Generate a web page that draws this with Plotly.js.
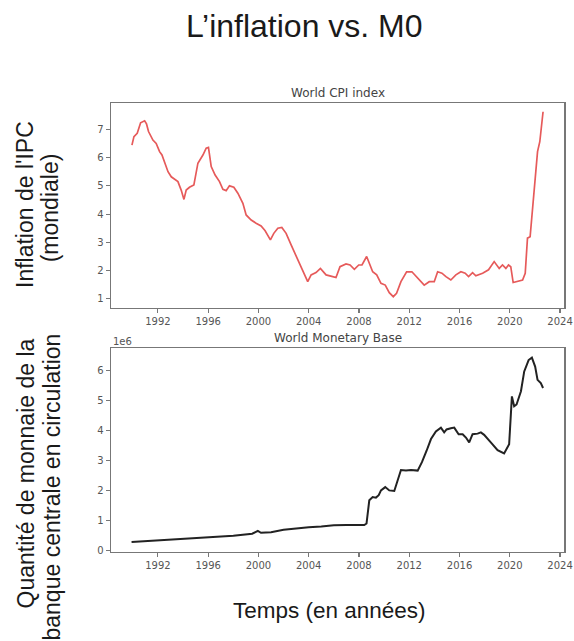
<!DOCTYPE html>
<html>
<head>
<meta charset="utf-8">
<script src="https://cdn.plot.ly/plotly-3.0.1.min.js"></script>
<style>html,body{margin:0;padding:0;background:#fff;}#chart{width:574px;height:641px;}</style>
</head>
<body>
<div id="chart"></div>
<script>
// ---- Data ----
const cpiYears = [1989.93,1990.09,1990.35,1990.62,1990.94,1991.09,1991.25,1991.6,1991.86,1992.13,1992.32,1992.8,1993.06,1993.4,1993.59,1993.85,1994.07,1994.25,1994.51,1994.86,1995.18,1995.58,1995.84,1996.02,1996.24,1996.55,1996.9,1997.17,1997.43,1997.69,1998.04,1998.36,1998.76,1999.02,1999.42,1999.81,2000.21,2000.53,2000.95,2001.22,2001.54,2001.86,2002.2,2002.6,2003.13,2003.53,2003.92,2004.19,2004.58,2004.93,2005.38,2005.91,2006.17,2006.49,2006.97,2007.29,2007.63,2007.98,2008.24,2008.61,2008.82,2009.09,2009.41,2009.75,2010.09,2010.41,2010.73,2010.99,2011.34,2011.79,2012.21,2012.67,2013.19,2013.59,2013.99,2014.26,2014.6,2014.92,2015.31,2015.71,2016.11,2016.45,2016.72,2017.04,2017.3,2017.84,2018.31,2018.76,2019.16,2019.42,2019.69,2019.9,2020.08,2020.27,2020.62,2021.02,2021.23,2021.41,2021.62,2021.81,2022.02,2022.21,2022.39,2022.65];
const cpiValues = [6.44,6.74,6.86,7.23,7.30,7.19,6.92,6.62,6.50,6.21,6.09,5.50,5.32,5.21,5.15,4.85,4.52,4.85,4.95,5.03,5.80,6.09,6.33,6.36,5.68,5.38,5.15,4.88,4.83,5.00,4.95,4.74,4.38,3.97,3.79,3.68,3.58,3.41,3.09,3.32,3.50,3.53,3.32,2.91,2.38,1.96,1.61,1.85,1.93,2.08,1.85,1.79,1.76,2.14,2.24,2.20,2.05,2.20,2.20,2.50,2.26,1.96,1.85,1.55,1.49,1.22,1.08,1.20,1.61,1.96,1.96,1.73,1.49,1.61,1.61,1.96,1.91,1.79,1.67,1.85,1.96,1.91,1.79,1.93,1.82,1.91,2.03,2.32,2.08,2.20,2.08,2.20,2.14,1.58,1.61,1.67,1.91,3.15,3.20,4.15,5.32,6.21,6.56,7.62];

const mbYears = [1989.9,1992,1994,1996,1998,1999.5,1999.95,2000.2,2001,2002,2003,2004,2005,2006,2007,2008.42,2008.6,2008.82,2009.09,2009.35,2009.57,2009.75,2010.09,2010.41,2010.81,2011.08,2011.34,2011.74,2012.14,2012.67,2013.01,2013.38,2013.73,2014.12,2014.52,2014.78,2014.97,2015.31,2015.58,2015.93,2016.25,2016.51,2016.77,2017.04,2017.44,2017.7,2017.96,2018.49,2019.03,2019.55,2019.95,2020.17,2020.35,2020.54,2020.89,2021.15,2021.5,2021.76,2022.02,2022.21,2022.47,2022.65];
const mbValues = [290000,340000,400000,450000,500000,570000,660000,600000,620000,700000,750000,780000,810000,850000,860000,860000,910000,1680000,1790000,1770000,1850000,2010000,2120000,2010000,1990000,2340000,2690000,2670000,2690000,2670000,2950000,3330000,3720000,3970000,4100000,3940000,4040000,4080000,4100000,3880000,3880000,3770000,3610000,3880000,3900000,3940000,3860000,3610000,3350000,3240000,3550000,5140000,4810000,4870000,5310000,5970000,6350000,6430000,6130000,5690000,5580000,5420000];

const yearTicks = [1992,1996,2000,2004,2008,2012,2016,2020,2024];
const yearTickLabels = ["1992","1996","2000","2004","2008","2012","2016","2020","2024"];
const cpiTicks = [1,2,3,4,5,6,7];
const mbTicks = [0,1000000,2000000,3000000,4000000,5000000,6000000];
const mbTickLabels = ["0","1","2","3","4","5","6"];

const texts = {
  title: "L’inflation vs. M0",
  top1: "Inflation de l'IPC",
  top2: "(mondiale)",
  bot1: "Quantité de monnaie de la",
  bot2: "banque centrale en circulation",
  xt: "Temps (en années)",
  sub1: "World CPI index",
  sub2: "World Monetary Base",
  offset: "1e6"
};

// ---- Layout helpers ----
const W = 574, H = 641;
const px = v => v / W;
const py = v => 1 - v / H;

const tickFont = {family: "DejaVu Sans", size: 10, color: "#555"};
const frame = {showline: true, mirror: true, linecolor: "#777", linewidth: 1.2,
  ticks: "outside", ticklen: 4, tickcolor: "#777", tickwidth: 1.1,
  showgrid: false, zeroline: false, tickfont: tickFont};

const xBase = Object.assign({}, frame, {
  range: [1988.24, 2024.34], tickmode: "array", tickvals: yearTicks, ticktext: yearTickLabels,
  domain: [px(110.7), px(564.3)]
});

const traces = [
  {x: cpiYears, y: cpiValues, type: "scatter", mode: "lines",
   line: {color: "#e65a5a", width: 1.7}, xaxis: "x", yaxis: "y", hoverinfo: "skip"},
  {x: mbYears, y: mbValues, type: "scatter", mode: "lines",
   line: {color: "#222", width: 2}, xaxis: "x2", yaxis: "y2", hoverinfo: "skip"}
];

const bigFont = {family: "Liberation Sans, Arial, sans-serif", color: "#1a1a1a"};
function f(size, color) { return Object.assign({}, bigFont, {size: size}, color ? {color: color} : {}); }

const layout = {
  width: W, height: H,
  margin: {l: 0, r: 0, t: 0, b: 0},
  paper_bgcolor: "#fff", plot_bgcolor: "#fff",
  showlegend: false,
  xaxis: Object.assign({}, xBase, {anchor: "y"}),
  yaxis: Object.assign({}, frame, {range: [0.69, 7.93], tickmode: "array", tickvals: cpiTicks,
    domain: [py(307.7), py(103)], anchor: "x"}),
  xaxis2: Object.assign({}, xBase, {anchor: "y2"}),
  yaxis2: Object.assign({}, frame, {range: [-30000, 6740000], tickmode: "array", tickvals: mbTicks,
    ticktext: mbTickLabels, domain: [py(551.7), py(348.3)], anchor: "x2"}),
  annotations: [
    {text: texts.title, xref: "paper", yref: "paper", x: px(304), y: py(26), xanchor: "center", yanchor: "middle",
     showarrow: false, font: f(32)},
    {text: texts.top1, xref: "paper", yref: "paper", x: px(25), y: py(205), textangle: -90,
     xanchor: "center", yanchor: "middle", showarrow: false, font: f(23)},
    {text: texts.top2, xref: "paper", yref: "paper", x: px(50), y: py(208.3), textangle: -90,
     xanchor: "center", yanchor: "middle", showarrow: false, font: f(23)},
    {text: texts.bot1, xref: "paper", yref: "paper", x: px(25.5), y: py(474), textangle: -90,
     xanchor: "center", yanchor: "middle", showarrow: false, font: f(23)},
    {text: texts.bot2, xref: "paper", yref: "paper", x: px(51), y: py(487.5), textangle: -90,
     xanchor: "center", yanchor: "middle", showarrow: false, font: f(23)},
    {text: texts.xt, xref: "paper", yref: "paper", x: px(329.5), y: py(610), xanchor: "center", yanchor: "middle",
     showarrow: false, font: f(22.5)},
    {text: texts.sub1, xref: "paper", yref: "paper", x: px(337.5), y: py(93.5), xanchor: "center", yanchor: "middle",
     showarrow: false, font: {family: "DejaVu Sans", size: 12, color: "#444"}},
    {text: texts.sub2, xref: "paper", yref: "paper", x: px(337.5), y: py(337.8), xanchor: "center", yanchor: "middle",
     showarrow: false, font: {family: "DejaVu Sans", size: 12, color: "#444"}},
    {text: texts.offset, xref: "paper", yref: "paper", x: px(111), y: py(341.5), xanchor: "left", yanchor: "middle",
     showarrow: false, font: {family: "DejaVu Sans", size: 10, color: "#555"}}
  ]
};

Plotly.newPlot("chart", traces, layout, {staticPlot: true, displayModeBar: false});
</script>
</body>
</html>
